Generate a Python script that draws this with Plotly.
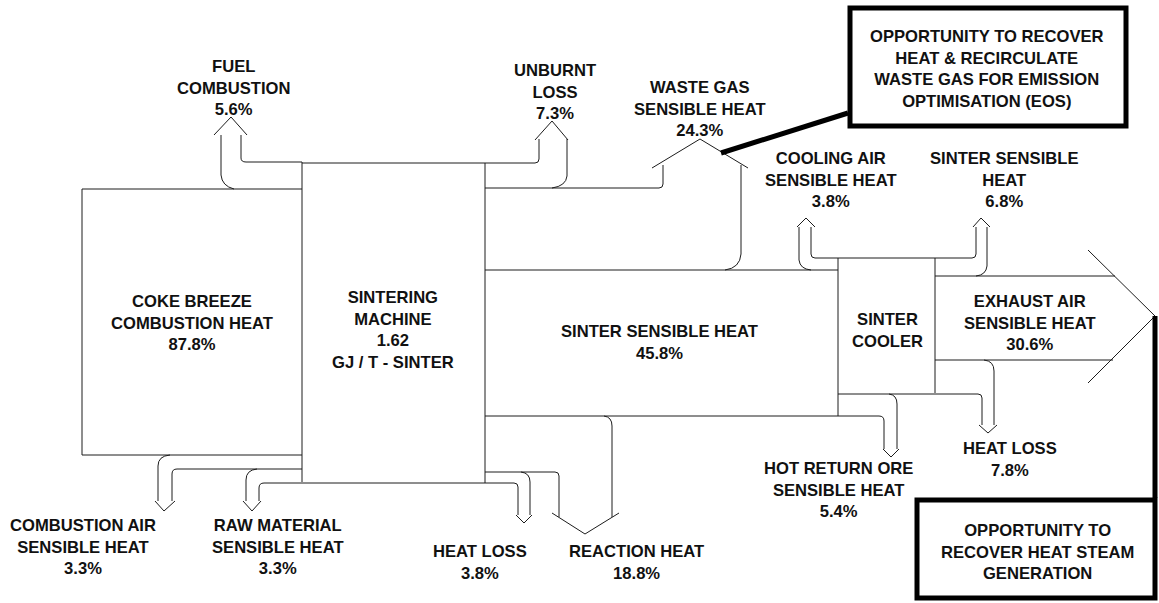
import plotly.graph_objects as go

# ---------------- data ----------------
node_names = ["COKE BREEZE<br>COMBUSTION HEAT", "SINTERING<br>MACHINE", "SINTER SENSIBLE HEAT", "SINTER<br>COOLER"]
node_values = ["87.8%", "1.62<br>GJ / T - SINTER", "45.8%", ""]

flow_names = [
    "FUEL<br>COMBUSTION", "UNBURNT<br>LOSS", "WASTE GAS<br>SENSIBLE HEAT",
    "COOLING AIR<br>SENSIBLE HEAT", "SINTER SENSIBLE<br>HEAT", "EXHAUST AIR<br>SENSIBLE HEAT",
    "HEAT LOSS", "HOT RETURN ORE<br>SENSIBLE HEAT", "REACTION HEAT", "HEAT LOSS",
    "RAW MATERIAL<br>SENSIBLE HEAT", "COMBUSTION AIR<br>SENSIBLE HEAT",
]
flow_pct = [5.6, 7.3, 24.3, 3.8, 6.8, 30.6, 7.8, 5.4, 18.8, 3.8, 3.3, 3.3]

callouts = [
    "OPPORTUNITY TO RECOVER<br>HEAT & RECIRCULATE<br>WASTE GAS FOR EMISSION<br>OPTIMISATION (EOS)",
    "OPPORTUNITY TO<br>RECOVER HEAT STEAM<br>GENERATION",
]

# ---------------- layout (positions in pixel space) ----------------
node_xy = [(192, 322.5), (393, 329.5), (659, 342.5), (887, 330)]
flow_xy = [(233, 87.5), (555, 92), (700, 108.5), (831, 179.5), (1004, 179.5), (1030, 322.5),
           (1010, 459), (838, 490), (636, 562.5), (480, 562.5), (278, 547), (83, 547)]
callout_xy = [(987, 68.5), (1037, 552)]

thin_paths = [
    # coke breeze block
    "M 302,189 L 82,189 L 82,455 L 302,455",
    # machine edges
    "M 302,162 L 302,482",
    "M 485,163 L 485,483",
    # fuel combustion arrow
    "M 234,189 Q 222,186 221,175 L 221,135",
    "M 214,135 L 231,117 L 247,135",
    "M 241,135 L 241,158 Q 241,162 246,162 L 302,162",
    # unburnt loss arrow
    "M 302,163 L 535,163 Q 539,163 539,159 L 539,139",
    "M 535,140 L 552,121 L 568,140",
    "M 567,139 L 567,176 Q 566,186 552,188",
    # waste gas arrow
    "M 485,188 L 659,188 Q 663,188 663,184 L 663,165",
    "M 652,168 L 700,139 L 748,168",
    "M 741,165 L 741,254 Q 740,268 725,270",
    # sinter sensible heat band
    "M 485,270 L 838,270",
    "M 485,416 L 879,416 Q 884,416 884,421 L 884,449",
    # cooling air arrow / cooler top
    "M 799,227 L 799,260 Q 800,269 811,270",
    "M 797,227 L 806,218 L 815,227",
    "M 811,227 L 811,254 Q 811,258 815,258 L 972,258 Q 976,258 976,254 L 976,227",
    "M 973,227 L 981,218 L 990,227",
    "M 987,227 L 987,266 Q 986,275 976,276",
    # cooler
    "M 838,258 L 838,416",
    "M 935,258 L 935,393",
    "M 838,394 L 978,394 Q 982,394 982,398 L 982,425",
    # hot return ore
    "M 889,394 Q 897,395 897,404 L 897,449",
    "M 883,449 L 891,457 L 899,449",
    # exhaust air arrow
    "M 935,276 L 1115,276",
    "M 935,360 L 1113,360",
    "M 1088,250 L 1155,316 L 1088,383",
    # heat loss 7.8
    "M 984,360 Q 994,361 994,371 L 994,425",
    "M 979,425 L 988,433 L 997,425",
    # reaction heat
    "M 604,416 Q 612,417 612,426 L 612,517",
    "M 552,513 L 585,534 L 619,513",
    "M 485,472 L 555,472 Q 559,472 559,476 L 559,517",
    # heat loss 3.8 + raw material right shaft
    "M 259,501 L 259,488 Q 259,483 264,483 L 514,483 Q 518,483 518,487 L 518,515",
    "M 521,472 Q 530,473 530,482 L 530,515",
    "M 516,515 L 524,523 L 532,515",
    # combustion air
    "M 170,455 Q 158,456 158,466 L 158,501",
    "M 302,469 L 177,469 Q 172,469 172,474 L 172,501",
    "M 155,501 L 164,511 L 175,501",
    # raw material
    "M 257,469 Q 246,470 246,480 L 246,501",
    "M 243,501 L 252,511 L 261,501",
]
thick_paths = [
    "M 721,153 L 848,113",
    "M 1155,316 L 1155,498",
]
thick_rects = [(850, 8, 1126, 126), (917, 500, 1155, 598)]

LINE = "#1c1c1c"
FONT = dict(family="Liberation Sans, Arial, sans-serif", size=16.6, color="#111111", weight="bold")

fig = go.Figure()
fig.add_trace(go.Scatter(x=[0, 1159], y=[0, 603], mode="markers", marker=dict(opacity=0), hoverinfo="skip", showlegend=False))

shapes = []
for p in thin_paths:
    shapes.append(dict(type="path", path=p, xref="x", yref="y", line=dict(color=LINE, width=1)))
for p in thick_paths:
    shapes.append(dict(type="path", path=p, xref="x", yref="y", line=dict(color="#000000", width=5)))
for x0, y0, x1, y1 in thick_rects:
    shapes.append(dict(type="rect", x0=x0, y0=y0, x1=x1, y1=y1, xref="x", yref="y",
                       line=dict(color="#000000", width=5), fillcolor="white", layer="below"))

annotations = []
for name, val, (x, y) in zip(node_names, node_values, node_xy):
    txt = name + ("<br>" + val if val else "")
    annotations.append(dict(x=x, y=y, text=txt, showarrow=False, xref="x", yref="y",
                            xanchor="center", yanchor="middle", align="center", font=FONT))
for name, pct, (x, y) in zip(flow_names, flow_pct, flow_xy):
    annotations.append(dict(x=x, y=y, text=f"{name}<br>{pct:.1f}%", showarrow=False, xref="x", yref="y",
                            xanchor="center", yanchor="middle", align="center", font=FONT))
for txt, (x, y) in zip(callouts, callout_xy):
    annotations.append(dict(x=x, y=y, text=txt, showarrow=False, xref="x", yref="y",
                            xanchor="center", yanchor="middle", align="center", font=FONT))

fig.update_layout(
    width=1159, height=603,
    margin=dict(l=0, r=0, t=0, b=0),
    paper_bgcolor="white", plot_bgcolor="white",
    xaxis=dict(range=[0, 1159], visible=False, fixedrange=True),
    yaxis=dict(range=[603, 0], visible=False, fixedrange=True),
    shapes=shapes, annotations=annotations, showlegend=False,
)
fig.write_html("out.html", config={"displayModeBar": False},
               post_script="document.body.style.margin='0';document.body.style.overflow='hidden';")
